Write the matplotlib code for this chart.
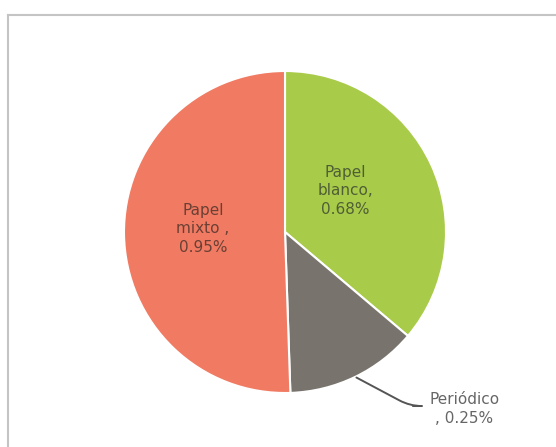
import numpy as np
import matplotlib
matplotlib.use("Agg")
import matplotlib.pyplot as plt
from matplotlib.lines import Line2D

categories = ["Papel blanco", "Periódico", "Papel mixto"]
values = [0.68, 0.25, 0.95]
label_texts = ["Papel\nblanco,\n0.68%", "Periódico\n, 0.25%", "Papel\nmixto ,\n0.95%"]
colors = ["#A9CB4A", "#78746D", "#F17A62"]

W, H = 556, 447
fig = plt.figure(figsize=(W / 100, H / 100), dpi=100)
fig.patch.set_facecolor("white")

cx, cy, R = 285, 232, 161
ax = fig.add_axes([(cx - R) / W, (H - cy - R) / H, 2 * R / W, 2 * R / H])
wedges, _ = ax.pie(values, colors=colors, startangle=90, counterclock=False,
                   wedgeprops=dict(edgecolor="white", linewidth=1.5))
ax.set_xlim(-1, 1)
ax.set_ylim(-1, 1)
ax.set_aspect("equal")
ax.axis("off")

font = dict(family="DejaVu Sans", fontsize=11, linespacing=1.3)

# inside labels
ax.text(0.373, 0.255, label_texts[0], ha="center", va="center",
        color="#4f5f35", **font)
ax.text(-0.509, 0.019, label_texts[2], ha="center", va="center",
        color="#6a4035", **font)

# outside label for Periódico with leader line
w = wedges[1]
mid = np.deg2rad((w.theta1 + w.theta2) / 2)
xy = (np.cos(mid), np.sin(mid))
ax.annotate("", xy=xy, xytext=(0.795, -1.081), textcoords="data",
            annotation_clip=False,
            arrowprops=dict(arrowstyle="-", color="#555555", lw=1.4,
                            shrinkA=0, shrinkB=1,
                            connectionstyle="angle,angleA=0,angleB=-28,rad=12"))
ax.text(1.115, -1.099, label_texts[1], ha="center", va="center",
        color="#666666", clip_on=False, **font)

# scanned frame lines
fig.add_artist(Line2D([8 / W, 1.0], [1 - 15 / H, 1 - 15 / H], transform=fig.transFigure,
                      color="#c4c4c4", lw=1.5))
fig.add_artist(Line2D([8 / W, 8 / W], [1 - 15 / H, 0.0], transform=fig.transFigure,
                      color="#c4c4c4", lw=1.5))

fig.savefig("out.png", dpi=100, facecolor="white")
